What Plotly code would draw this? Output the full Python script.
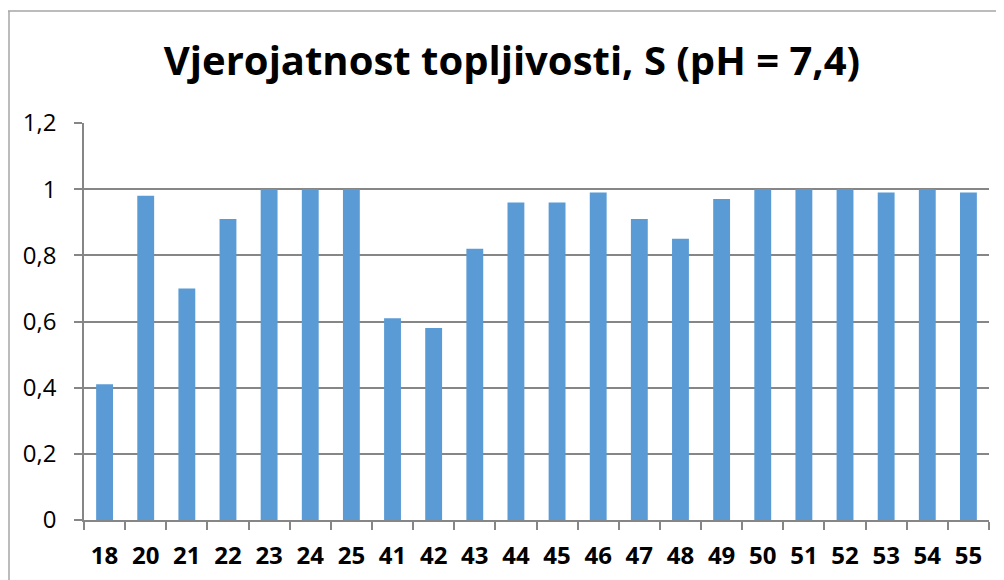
import plotly.graph_objects as go

categories = ["18", "20", "21", "22", "23", "24", "25", "41", "42", "43", "44",
              "45", "46", "47", "48", "49", "50", "51", "52", "53", "54", "55"]
values = [0.41, 0.98, 0.70, 0.91, 1.00, 1.00, 1.00, 0.61, 0.58, 0.82, 0.96,
          0.96, 0.99, 0.91, 0.85, 0.97, 1.00, 1.00, 1.00, 0.99, 1.00, 0.99]
title_text = "Vjerojatnost topljivosti, S (pH = 7,4)"

# page has an 8px body margin, so figure coordinates are page coordinates minus 8
OFF = 8
W, H = 1004, 580
ml, mt = 84 - OFF, 123 - OFF
pw, ph = 905, 397
mr = W - ml - pw
mb = H - mt - ph

fig = go.Figure(go.Bar(x=categories, y=values, marker=dict(color="#5B9BD5", line=dict(width=0))))

def px_to_paper_x(px):
    return (px - OFF - ml) / pw

def px_to_paper_y(py):
    return (mt + ph - (py - OFF)) / ph

border_color = "#A6A6A6"
fig.add_shape(type="line", xref="paper", yref="paper",
              x0=px_to_paper_x(9), x1=px_to_paper_x(9),
              y0=px_to_paper_y(11), y1=px_to_paper_y(600),
              line=dict(color=border_color, width=1.5))
fig.add_shape(type="line", xref="paper", yref="paper",
              x0=px_to_paper_x(8), x1=px_to_paper_x(1020),
              y0=px_to_paper_y(11), y1=px_to_paper_y(11),
              line=dict(color=border_color, width=1.5))

fig.update_layout(
    width=W, height=H,
    margin=dict(l=ml, r=mr, t=mt, b=mb, autoexpand=False),
    paper_bgcolor="white", plot_bgcolor="white",
    separators=",.",
    bargap=0.59,
    showlegend=False,
    title=dict(text=title_text, x=(512 - OFF) / W, xanchor="center",
               y=1 - (61 - OFF) / H, yanchor="middle", yref="container",
               font=dict(family="Open Sans", size=40, color="black", weight="bold")),
    xaxis=dict(type="category", showgrid=False, showline=True, linecolor="#868686", linewidth=1.5,
               ticks="outside", tickson="boundaries", ticklen=8, tickcolor="#868686", tickwidth=1.5,
               tickfont=dict(family="Open Sans", size=24, color="black", weight="bold"),
               ticklabelstandoff=13),
    yaxis=dict(range=[0, 1.2], dtick=0.2, tick0=0, showgrid=True, gridcolor="#868686", gridwidth=1.5,
               showline=True, linecolor="#868686", linewidth=1.5, zeroline=False,
               ticks="outside", ticklen=8, tickcolor="#868686", tickwidth=1.5,
               tickfont=dict(family="Open Sans", size=24, color="black"),
               ticklabelstandoff=13),
)

fig.write_html("out.html")
